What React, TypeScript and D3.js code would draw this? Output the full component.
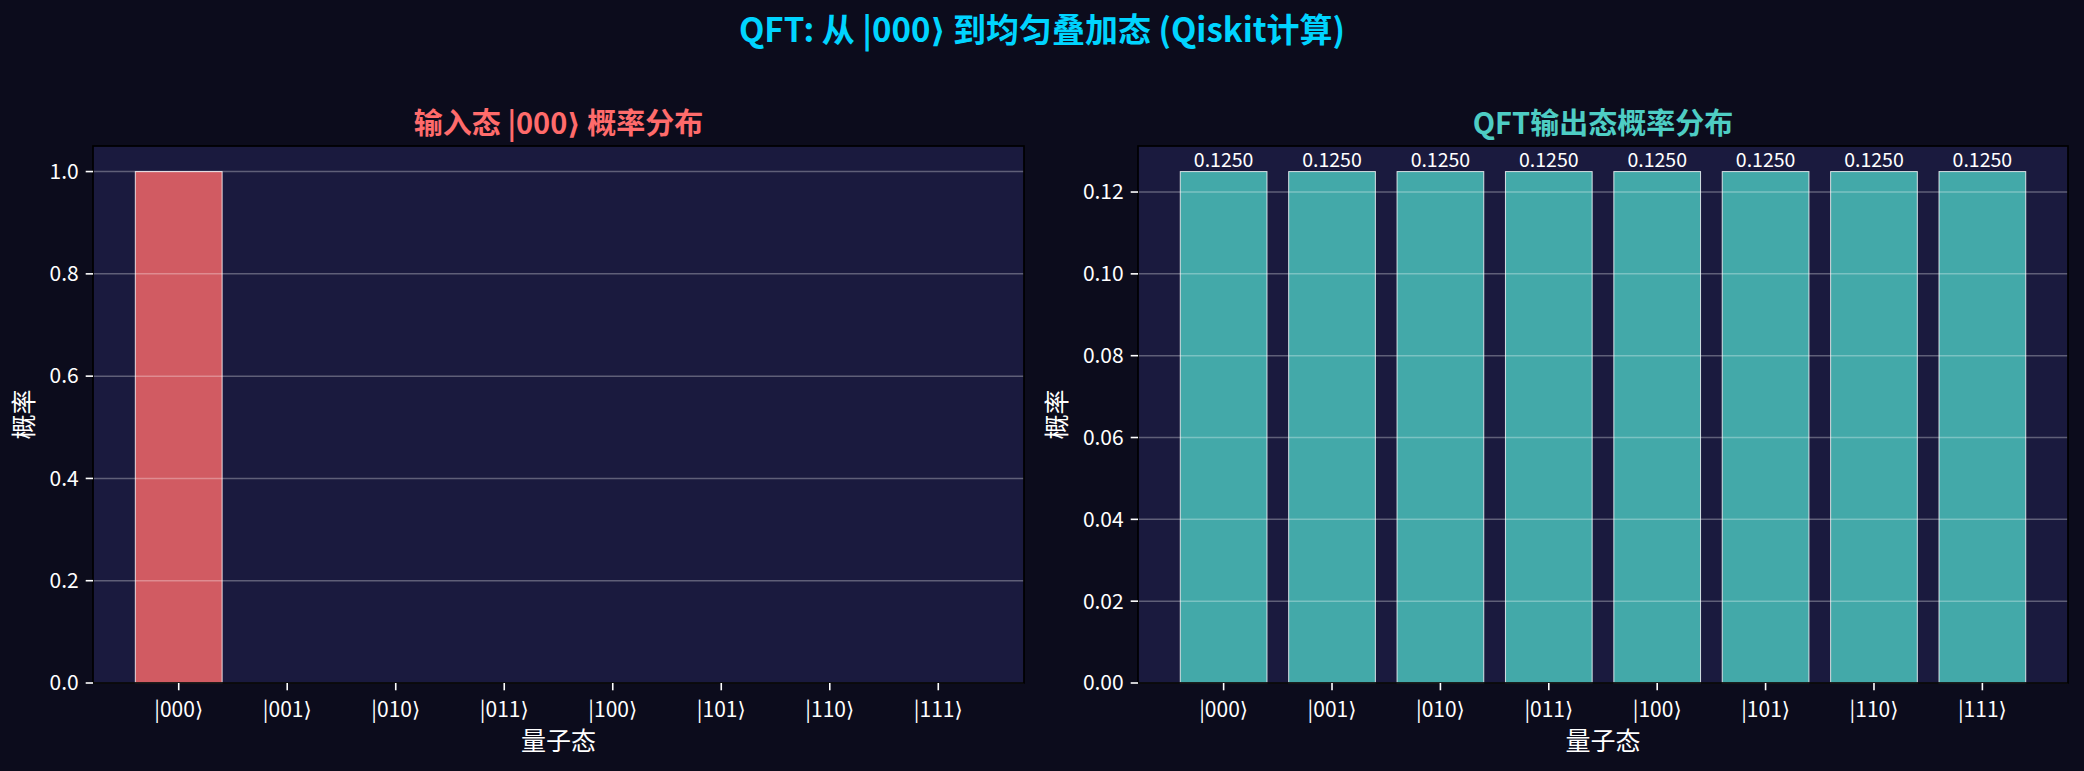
import React from "react";
import * as d3 from "d3";

const states = ["|000⟩", "|001⟩", "|010⟩", "|011⟩", "|100⟩", "|101⟩", "|110⟩", "|111⟩"];
const inputProbs = [1.0, 0, 0, 0, 0, 0, 0, 0];
const outputProbs = [0.125, 0.125, 0.125, 0.125, 0.125, 0.125, 0.125, 0.125];
const leftTicks = [0.0, 0.2, 0.4, 0.6, 0.8, 1.0];
const rightTicks = [0.0, 0.02, 0.04, 0.06, 0.08, 0.1, 0.12];

const W = 2084;
const H = 771;
const FONT = "'Noto Sans CJK SC', 'Noto Sans', 'DejaVu Sans', sans-serif";
const FIG_BG = "#0c0c1c";
const AX_BG = "#1a1a3e";

type PanelProps = {
  x0: number;
  x1: number;
  values: number[];
  ticks: number[];
  tickFmt: (v: number) => string;
  ymax: number;
  color: string;
  title: string;
  ylabelX: number;
  showValues: boolean;
};

function Panel({ x0, x1, values, ticks, tickFmt, ymax, color, title, ylabelX, showValues }: PanelProps) {
  const y0 = 146;
  const y1 = 683;
  const x = d3.scaleLinear().domain([-0.79, 7.79]).range([x0, x1]);
  const y = d3.scaleLinear().domain([0, ymax]).range([y1, y0]);
  const bw = x(0.8) - x(0);
  const tickLen = 7.3;
  return (
    <g>
      <rect x={x0} y={y0} width={x1 - x0} height={y1 - y0} fill={AX_BG} />
      {values.map((v, i) => (
        <rect
          key={i}
          x={x(i - 0.4)}
          y={y(v)}
          width={bw}
          height={y(0) - y(v)}
          fill={color}
          fillOpacity={0.8}
          stroke="#ffffff"
          strokeOpacity={0.8}
          strokeWidth={1}
        />
      ))}
      {ticks.map((t, i) => (
        <line key={i} x1={x0} x2={x1} y1={y(t)} y2={y(t)} stroke="#ffffff" strokeOpacity={0.3} strokeWidth={1.5} />
      ))}
      {showValues &&
        values.map((v, i) => (
          <text key={i} x={x(i)} y={y(v) - 5} fill="#ffffff" fontSize={19.5} textAnchor="middle" fontFamily={FONT}>
            {v.toFixed(4)}
          </text>
        ))}
      <rect x={x0} y={y0} width={x1 - x0} height={y1 - y0} fill="none" stroke="#000000" strokeWidth={1.7} />
      {ticks.map((t, i) => (
        <g key={i}>
          <line x1={x0 - tickLen} x2={x0} y1={y(t)} y2={y(t)} stroke="#ffffff" strokeWidth={1.6} />
          <text x={x0 - tickLen - 7} y={y(t)} dy="0.35em" fill="#ffffff" fontSize={21} textAnchor="end" fontFamily={FONT}>
            {tickFmt(t)}
          </text>
        </g>
      ))}
      {states.map((s, i) => (
        <g key={i}>
          <line x1={x(i)} x2={x(i)} y1={y1} y2={y1 + tickLen} stroke="#ffffff" strokeWidth={1.6} />
          <text x={x(i)} y={y1 + tickLen + 10} dy="0.8em" fill="#ffffff" fontSize={21} textAnchor="middle" fontFamily={FONT}>
            {s}
          </text>
        </g>
      ))}
      <text x={(x0 + x1) / 2} y={750} fill="#ffffff" fontSize={25} textAnchor="middle" fontFamily={FONT}>
        量子态
      </text>
      <text
        transform={`translate(${ylabelX},${(y0 + y1) / 2}) rotate(-90)`}
        fill="#ffffff"
        fontSize={25}
        textAnchor="middle"
        dy="0.35em"
        fontFamily={FONT}
      >
        概率
      </text>
      <text x={(x0 + x1) / 2} y={134} fill={color} fontSize={29} fontWeight="bold" textAnchor="middle" fontFamily={FONT}>
        {title}
      </text>
    </g>
  );
}

export default function App() {
  return (
    <svg
      width={W}
      height={H}
      viewBox={`0 0 ${W} ${H}`}
      style={{ position: "absolute", left: 0, top: 0, display: "block" }}
    >
      <rect x={0} y={0} width={W} height={H} fill={FIG_BG} />
      <text x={W / 2} y={42} fill="#00d4ff" fontSize={33} fontWeight="bold" textAnchor="middle" fontFamily={FONT}>
        QFT: 从 |000⟩ 到均匀叠加态 (Qiskit计算)
      </text>
      <Panel
        x0={93}
        x1={1024}
        values={inputProbs}
        ticks={leftTicks}
        tickFmt={(v) => v.toFixed(1)}
        ymax={1.05}
        color="#ff6b6b"
        title="输入态 |000⟩ 概率分布"
        ylabelX={24}
        showValues={false}
      />
      <Panel
        x0={1138}
        x1={2068}
        values={outputProbs}
        ticks={rightTicks}
        tickFmt={(v) => v.toFixed(2)}
        ymax={0.13125}
        color="#4ecdc4"
        title="QFT输出态概率分布"
        ylabelX={1057}
        showValues={true}
      />
    </svg>
  );
}
